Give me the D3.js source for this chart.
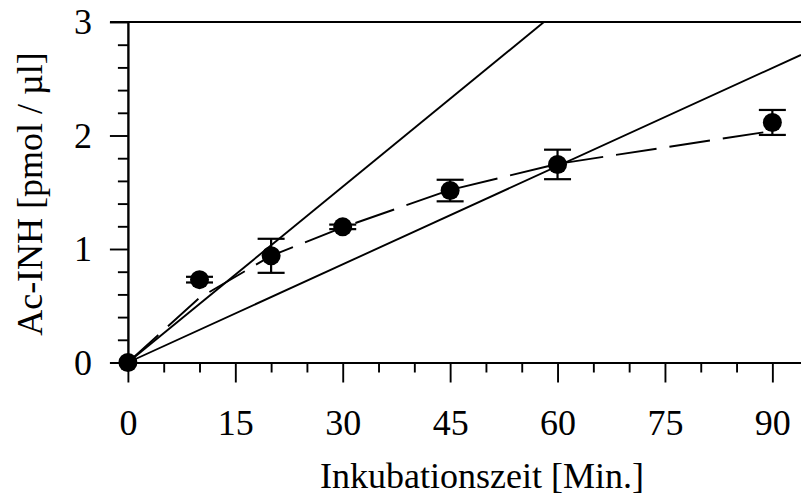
<!DOCTYPE html>
<html>
<head>
<meta charset="utf-8">
<script src="https://cdn.jsdelivr.net/npm/d3@7"></script>
<style>
  body { margin: 0; background: #fff; }
  svg text { font-family: "Liberation Serif", "Times New Roman", serif; fill: #000; }
</style>
</head>
<body>
<svg id="chart" width="801" height="498"></svg>
<script>
// Measured points (Inkubationszeit in Min., Ac-INH in pmol/µl)
var times = [0, 10, 20, 30, 45, 60, 90];
var means = [0, 0.73, 0.94, 1.195, 1.515, 1.745, 2.115];
var errs = [0, 0.025, 0.15, 0.02, 0.095, 0.13, 0.11];

// Dashed fit curve, read at the same times
var fitValues = [0, 0.57, 0.94, 1.19, 1.52, 1.75, 2.04];

// Two straight reference lines through the origin (end points)
var steepLine = [[0, 0], [58.1, 3]];
var flatLine = [[0, 0], [94, 2.71]];

var xMajor = [0, 15, 30, 45, 60, 75, 90];
var xMinor = [5, 10, 20, 25, 35, 40, 50, 55, 65, 70, 80, 85];
var yMajor = [0, 1, 2, 3];
var yMinor = [0.2, 0.4, 0.6, 0.8, 1.2, 1.4, 1.6, 1.8, 2.2, 2.4, 2.6, 2.8];

var svg = d3.select("#chart");

var x = d3.scaleLinear().domain([-2.5, 94]).range([110, 801]);
var y = d3.scaleLinear().domain([0, 3]).range([362.5, 22]);

var fontSize = 36;
var stroke = 1.9;

// x axis: minor ticks first, then the majors with labels
svg.append("g")
  .attr("transform", `translate(0,${y(0)})`)
  .call(d3.axisBottom(x).tickValues(xMinor).tickSize(10).tickSizeOuter(0).tickFormat(""));

var gx = svg.append("g")
  .attr("transform", `translate(0,${y(0)})`)
  .call(d3.axisBottom(x).tickValues(xMajor).tickSize(20).tickSizeOuter(0));
gx.selectAll("text")
  .attr("y", 72.5)
  .attr("dy", null)
  .style("font-size", fontSize + "px");

// y axis
svg.append("g")
  .attr("transform", `translate(${x(0)},0)`)
  .call(d3.axisLeft(y).tickValues(yMinor).tickSize(10).tickSizeOuter(0).tickFormat(""));

var gy = svg.append("g")
  .attr("transform", `translate(${x(0)},0)`)
  .call(d3.axisLeft(y).tickValues(yMajor).tickSize(18).tickSizeOuter(0)
    .tickPadding(18).tickFormat(d3.format("d")));
gy.selectAll("text")
  .attr("dy", "0.33em")
  .style("font-size", fontSize + "px");

svg.selectAll(".domain, .tick line")
  .attr("stroke", "#000")
  .attr("stroke-width", stroke);

// top frame line at y = 3
svg.append("line")
  .attr("x1", x.range()[0]).attr("x2", x.range()[1])
  .attr("y1", y(3)).attr("y2", y(3))
  .attr("stroke", "#000").attr("stroke-width", stroke);

// axis titles
svg.append("text")
  .attr("x", 482).attr("y", 488)
  .attr("text-anchor", "middle")
  .style("font-size", fontSize + "px")
  .text("Inkubationszeit [Min.]");

svg.append("text")
  .attr("transform", "translate(42,194) rotate(-90)")
  .attr("text-anchor", "middle")
  .style("font-size", fontSize + "px")
  .text("Ac-INH [pmol / µl]");

// reference lines
var line = d3.line().x(d => x(d[0])).y(d => y(d[1]));

svg.selectAll("path.ref")
  .data([steepLine, flatLine])
  .join("path")
  .attr("class", "ref")
  .attr("d", line)
  .attr("fill", "none")
  .attr("stroke", "#000")
  .attr("stroke-width", stroke);

// dashed fit
svg.append("path")
  .datum(d3.zip(times, fitValues))
  .attr("d", line)
  .attr("fill", "none")
  .attr("stroke", "#000")
  .attr("stroke-width", stroke)
  .attr("stroke-dasharray", "41,13");

// error bars and markers
var pts = times.map((t, i) => ({ t: t, m: means[i], e: errs[i] }));

var eb = svg.selectAll("g.err")
  .data(pts.filter(d => d.e > 0))
  .join("g")
  .attr("class", "err")
  .attr("stroke", "#000")
  .attr("stroke-width", 2.2);

eb.append("line")
  .attr("x1", d => x(d.t)).attr("x2", d => x(d.t))
  .attr("y1", d => y(d.m - d.e)).attr("y2", d => y(d.m + d.e));
eb.append("line")
  .attr("x1", d => x(d.t) - 13.5).attr("x2", d => x(d.t) + 13.5)
  .attr("y1", d => y(d.m + d.e)).attr("y2", d => y(d.m + d.e));
eb.append("line")
  .attr("x1", d => x(d.t) - 13.5).attr("x2", d => x(d.t) + 13.5)
  .attr("y1", d => y(d.m - d.e)).attr("y2", d => y(d.m - d.e));

svg.selectAll("circle.pt")
  .data(pts)
  .join("circle")
  .attr("class", "pt")
  .attr("cx", d => x(d.t))
  .attr("cy", d => y(d.m))
  .attr("r", 9.5)
  .attr("fill", "#000");
</script>
</body>
</html>
